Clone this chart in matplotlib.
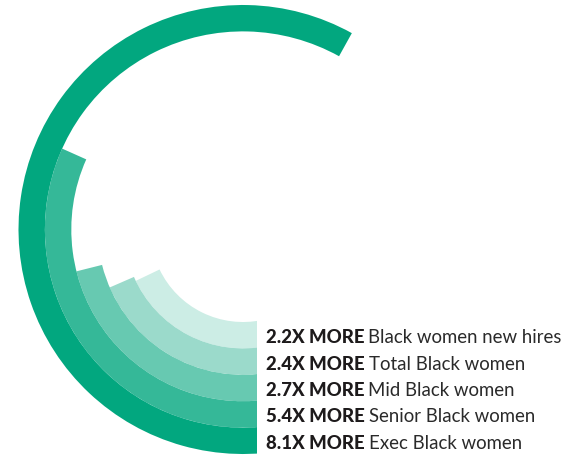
import numpy as np
import matplotlib
matplotlib.use("Agg")
import matplotlib.pyplot as plt
from matplotlib.patches import Polygon

# ---- data (inner ring first) ----
multipliers = ["2.2X", "2.4X", "2.7X", "5.4X", "8.1X"]
values = [2.2, 2.4, 2.7, 5.4, 8.1]
categories = ["Black women new hires", "Total Black women", "Mid Black women",
              "Senior Black women", "Exec Black women"]
# arc end angle (degrees clockwise from straight down)
arc_end_deg = [64.4, 66.5, 75.9, 114.1, 209.0]
colors = ["#CCEDE5", "#9BDACB", "#67C9B1", "#35B898", "#02A77F"]

W, H, DPI = 563, 456, 100
fig = plt.figure(figsize=(W / DPI, H / DPI), dpi=DPI)

cx, cy, R = 243.0, 230.5, 224.5          # pixels (from top-left)
ax = fig.add_axes([(cx - R) / W, (H - cy - R) / H, 2 * R / W, 2 * R / H],
                  projection="polar")
ax.set_theta_zero_location("S")
ax.set_theta_direction(-1)
ax.set_rlim(0, R)
ax.set_axis_off()

r_inner0 = 92.5
ring_w = (R - r_inner0) / len(values)
start = np.deg2rad(-12)

# vertical cut of the arc starts (lower-right quadrant excluded)
xc = 256.5 / W
yc = (H - cy) / H
clip = Polygon([(0, 0), (xc, 0), (xc, yc), (1, yc), (1, 1), (0, 1)],
               closed=True, transform=fig.transFigure)

ring_centers = []
for i, (end, col) in enumerate(zip(arc_end_deg, colors)):
    r0 = r_inner0 + i * ring_w
    ring_centers.append(r0 + ring_w / 2)
    bars = ax.bar(start, ring_w, width=np.deg2rad(end) - start, bottom=r0,
                  align="edge", color=col, edgecolor="none", linewidth=0)
    for b in bars:
        b.set_clip_path(clip)

fig.canvas.draw()
renderer = fig.canvas.get_renderer()
x0 = 266 / W
for mult, cat, rc in zip(multipliers, categories, ring_centers):
    y_disp = ax.transData.transform((0.0, rc))[1]
    y = y_disp / H
    t1 = fig.text(x0, y, f"{mult} MORE", fontsize=13.4, fontweight="black",
                  family=["Lato", "DejaVu Sans"], color="#1d1a1b",
                  va="center_baseline", ha="left")
    bb = t1.get_window_extent(renderer)
    x1 = (bb.x1 + 4) / W
    fig.text(x1, y, cat, fontsize=13.4, family=["Lato", "DejaVu Sans"],
             color="#2a2a2a", va="center_baseline", ha="left")

fig.savefig("out.png", dpi=DPI)
